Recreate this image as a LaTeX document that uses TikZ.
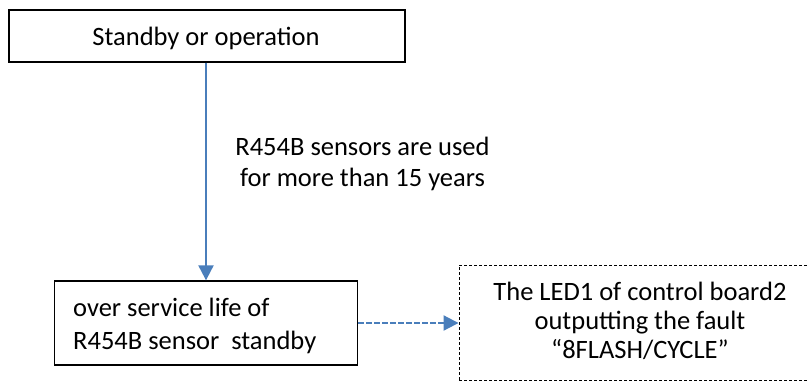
\documentclass[tikz,border=0pt]{standalone}
\usepackage{fontspec}
\setmainfont{Carlito}
\usetikzlibrary{arrows.meta}
\definecolor{arrblue}{RGB}{74,126,187}
\begin{document}
\begin{tikzpicture}[x=1pt,y=-1pt,
  box/.style={draw=black,line width=1.3pt,inner sep=0pt},
  dbox/.style={draw=black,line width=0.9pt,dash pattern=on 3pt off 2pt,inner sep=0pt},
  txt/.style={font=\fontsize{26.5}{31}\selectfont,align=center,inner sep=0pt,anchor=base},
  conn/.style={draw=arrblue,line width=2pt,-{Triangle[length=15pt,width=15pt]}}]
\useasboundingbox (0,0) rectangle (809,381);
\node[box,minimum width=396pt,minimum height=52pt] (top) at (207,36) {};
\node[txt] (toptxt) at (206,45) {Standby or operation};
\node[box,minimum width=303pt,minimum height=84pt] (over) at (206,323) {};
\node[txt,align=left,anchor=base west,font=\fontsize{26.5}{33}\selectfont] (overtxt) at (73,349) {over service life of\\R454B sensor\ \ standby};
\node[dbox,minimum width=354pt,minimum height=115pt] (led) at (636,322.5) {};
\node[txt,font=\fontsize{26.5}{29}\selectfont] (ledtxt) at (640,358) {The LED1 of control board2\\outputting the fault\\“8FLASH/CYCLE”};
\draw[conn] (top.south -| over.north) -- (over.north);
\node[txt] (lbl) at (362.5,186) {R454B sensors are used\\for more than 15 years};
\draw[conn,dash pattern=on 5.5pt off 2.5pt] (over.east |- 0,323) -- (led.west |- 0,323);
\end{tikzpicture}
\end{document}
